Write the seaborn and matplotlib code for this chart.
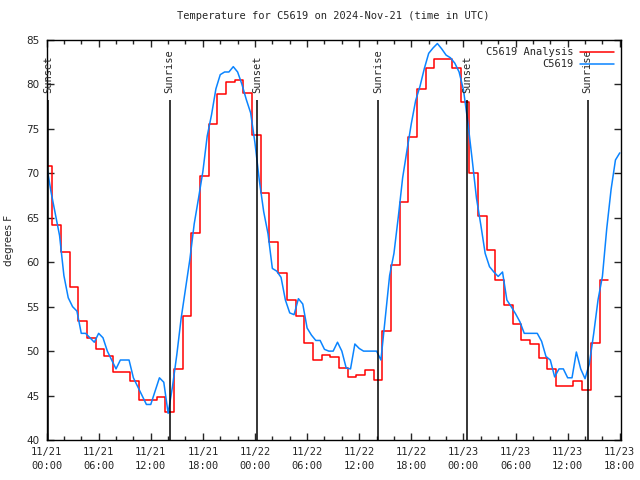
import matplotlib
matplotlib.use('Agg')
import matplotlib.pyplot as plt
import matplotlib.dates as mdates
import seaborn as sns
import pandas as pd

# analysis (hourly steps), first value valid from 11/20 23:40 UTC
red_start = '2024-11-20 23:40'
red_vals = [70.8, 64.2, 61.2, 57.2, 53.4, 51.5, 50.2, 49.4, 47.7, 47.7,
            46.6, 44.5, 44.5, 44.8, 43.2, 48.0, 53.9, 63.3, 69.7, 75.5,
            78.9, 80.3, 80.5, 79.0, 74.3, 67.8, 62.3, 58.8, 55.8, 54.0,
            50.9, 49.0, 49.6, 49.3, 48.1, 47.1, 47.3, 47.9, 46.8, 52.3,
            59.7, 66.8, 74.1, 79.5, 81.8, 82.9, 82.9, 81.8, 78.0, 70.0,
            65.2, 61.4, 58.0, 55.2, 53.1, 51.3, 50.8, 49.2, 48.0, 46.1,
            46.1, 46.6, 45.6, 50.9, 58.0]

# station obs every 30 min from 11/21 00:00 UTC
obs_start = '2024-11-21 00:00'
obs_vals = [71, 68, 65.5, 63, 58.5, 56, 55, 54.5, 52, 52,
            51.5, 51, 52, 51.5, 50, 49, 48, 49, 49, 49,
            47, 46, 45, 44, 44, 45.5, 47, 46.5, 43, 46,
            49.6, 53.7, 57, 60.3, 64.3, 67.2, 70.2, 74.2, 76.6, 79.5,
            81.1, 81.4, 81.4, 82, 81.4, 80, 78.3, 76.8, 73.4, 69.2,
            65.7, 63.2, 59.3, 59, 58.3, 55.75, 54.3, 54.1, 55.9, 55.3,
            52.6, 51.8, 51.2, 51.2, 50.2, 50, 50, 51, 50, 48.1,
            48, 50.8, 50.3, 50, 50, 50, 50, 49, 53.8, 58.5,
            61, 65.1, 69.5, 72.6, 75.6, 78.2, 79.8, 81.8, 83.5, 84.1,
            84.6, 84, 83.3, 83, 82.4, 81.4, 79.4, 75.8, 71.6, 67.2,
            64.2, 61, 59.5, 58.9, 58.4, 58.9, 55.75, 55, 54.2, 53.3,
            52, 52, 52, 52, 51.1, 49.4, 49, 47.1, 48, 48,
            47, 47, 49.9, 48, 46.9, 48.6, 52, 55.8, 58.4, 63.8,
            68.2, 71.5, 72.3]

sun_events = ['Sunset', 'Sunrise', 'Sunset', 'Sunrise', 'Sunset', 'Sunrise']
sun_times = ['2024-11-21 00:12', '2024-11-21 14:10', '2024-11-22 00:17',
             '2024-11-22 14:13', '2024-11-23 00:27', '2024-11-23 14:18']

red_t = pd.date_range(red_start, periods=len(red_vals) + 1, freq='h')
red = pd.DataFrame({'t': red_t, 'v': red_vals + [red_vals[-1]]})
obs = pd.DataFrame({'t': pd.date_range(obs_start, periods=len(obs_vals), freq='30min'),
                    'v': obs_vals})

sns.set_style('ticks')
plt.rcParams['font.family'] = ['DejaVu Sans Mono']
mono = 'DejaVu Sans Mono'
sans = 'DejaVu Sans'

fig, ax = plt.subplots(figsize=(6.4, 4.8), dpi=100)
fig.subplots_adjust(left=0.0727, right=0.970, bottom=0.0833, top=0.9167)

sns.lineplot(data=red, x='t', y='v', drawstyle='steps-post', color='#ff0000',
             lw=1.1, estimator=None, label='C5619 Analysis', ax=ax)
sns.lineplot(data=obs, x='t', y='v', color='#0a84ff', lw=1.1,
             estimator=None, label='C5619', ax=ax)

st = pd.to_datetime(sun_times)
ax.vlines(st, 0, 0.85, transform=ax.get_xaxis_transform(), color='black', lw=1.1)
for name, t in zip(sun_events, st):
    ax.text(t, 0.867, name, transform=ax.get_xaxis_transform(), rotation=90,
            ha='center', va='bottom', fontsize=7.5, family=mono)

ax.set_xlim(pd.Timestamp('2024-11-21 00:00'), pd.Timestamp('2024-11-23 18:07'))
ax.set_ylim(40, 85)
ax.xaxis.set_major_locator(mdates.HourLocator(byhour=range(0, 24, 6)))
ax.xaxis.set_minor_locator(mdates.HourLocator(byhour=range(0, 24, 2)))
ax.xaxis.set_major_formatter(mdates.DateFormatter('%m/%d\n%H:%M'))
ax.set_yticks(range(40, 86, 5))
ax.set_yticklabels([str(v) for v in range(40, 86, 5)], family=sans)

ax.tick_params(which='both', direction='in', top=True, right=True, width=1, labelsize=7.5)
ax.tick_params(which='major', length=5)
ax.tick_params(which='minor', length=3)
ax.tick_params(axis='x', pad=5)
ax.tick_params(axis='y', pad=5)
for s in ax.spines.values():
    s.set_linewidth(1)
    s.set_color('black')

ax.set_xlabel('')
ax.set_ylabel('degrees F', family=sans, fontsize=7.5, labelpad=9)
ax.set_title('Temperature for C5619 on 2024-Nov-21 (time in UTC)', fontsize=7.5,
             family=mono, pad=15)

leg = ax.legend(loc='upper right', frameon=False, markerfirst=False,
                prop={'family': mono, 'size': 7.5}, handlelength=3.2,
                labelspacing=0.2, borderaxespad=0.3, handletextpad=0.6)

fig.canvas.draw()
for lbl in ax.get_xticklabels():
    lbl.set_family(mono)
    lbl.set_linespacing(1.5)

fig.savefig('out.png', dpi=100)
